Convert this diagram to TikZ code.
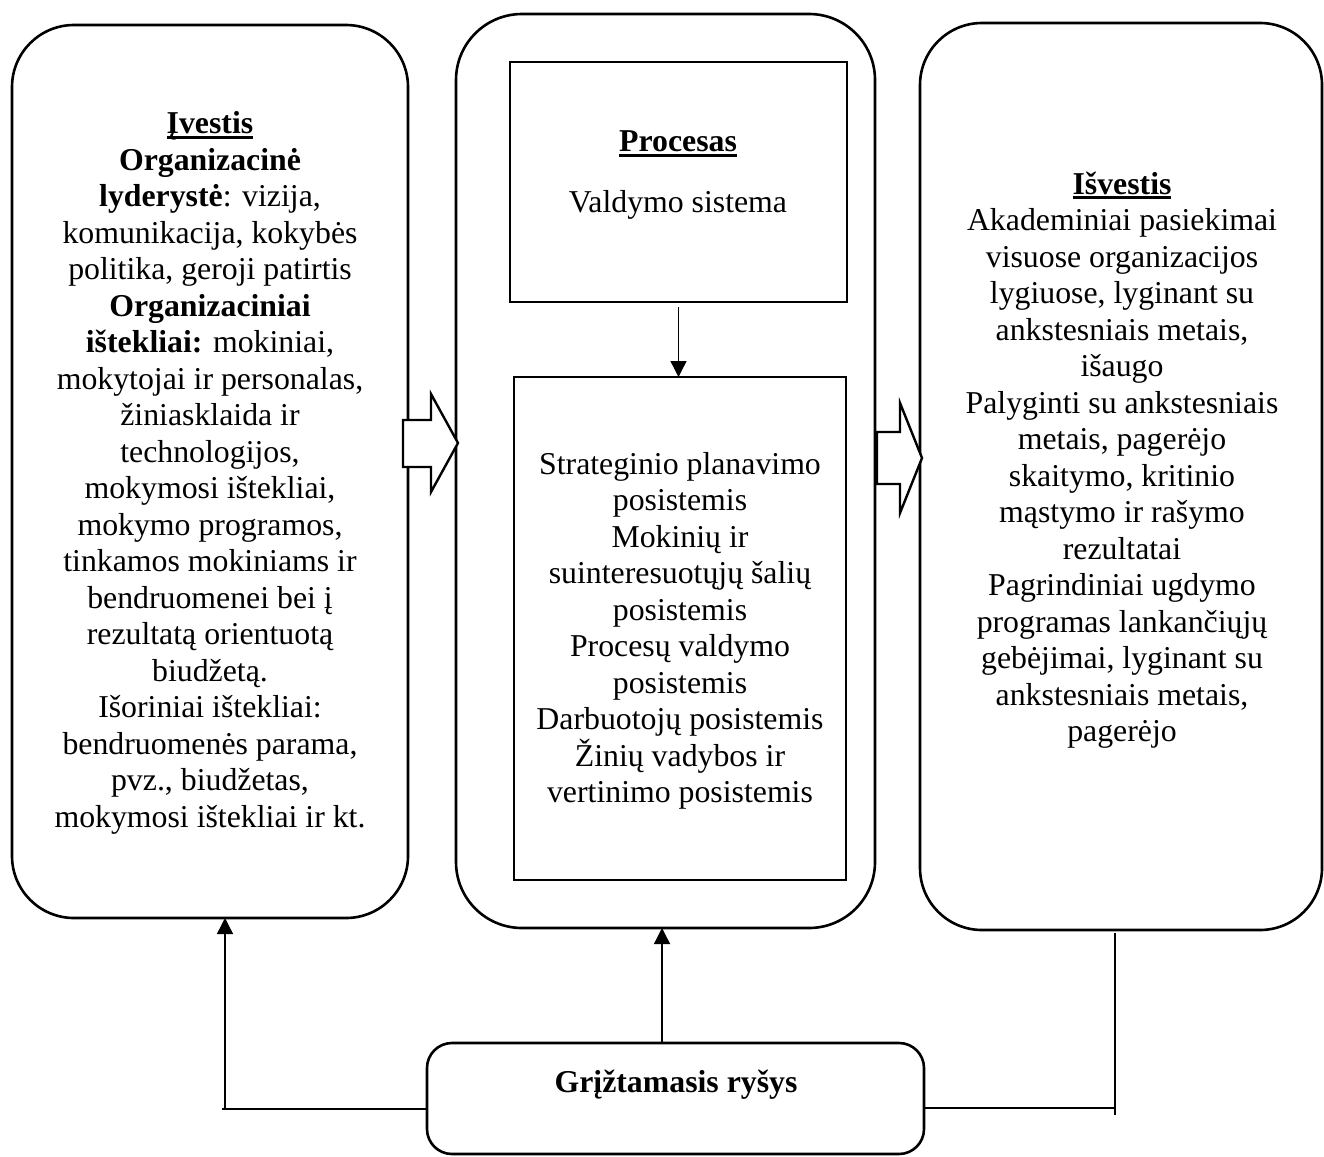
\documentclass[tikz,border=0pt]{standalone}
\usepackage{fontspec}
\setmainfont{Liberation Serif}
\usetikzlibrary{arrows.meta}
% bold heading with a heavy underline just below the baseline
\newcommand\undl[1]{\setbox0\hbox{#1}\rlap{\rule[-0.16em]{\wd0}{0.09em}}\box0}
\begin{document}
\begin{tikzpicture}[x=1pt,y=-1pt,
  panel/.style={draw, line width=2.6pt, rounded corners=62pt, inner sep=0pt, outer sep=0pt},
  innerbox/.style={draw, line width=2.4pt, inner sep=0pt, outer sep=0pt},
  txt/.style={align=center, inner sep=0pt, font=\fontsize{31.8}{36.5}\selectfont},
  conn/.style={line width=1.4pt},
  tip/.style={-{Triangle[width=16pt,length=16pt]}},
  blockarrow/.style={draw, fill=white, line width=2.4pt, line join=miter}]
\useasboundingbox (0,0) rectangle (1324,1156);

% three main panels
\node[panel, minimum width=396pt, minimum height=893pt] (in) at (210,471.5) {};
\node[panel, rounded corners=66pt, minimum width=419pt, minimum height=914pt] (proc) at (665.5,471) {};
\node[panel, minimum width=402pt, minimum height=907pt] (out) at (1121,476.5) {};

% boxes inside the process panel
\node[innerbox, minimum width=337pt, minimum height=240pt] (mgmt) at (678.5,182) {};
\node[innerbox, minimum width=332pt, minimum height=503pt] (subs) at (680,628.5) {};

% feedback box
\node[panel, rounded corners=25pt, minimum width=497pt, minimum height=111pt] (fb) at (675.5,1098.5) {};

% block arrows between panels
\draw[blockarrow] (403,420) -- (431,420) -- (431,394) -- (458,443) -- (431,492) -- (431,467) -- (403,467) -- cycle;
\draw[blockarrow] (877,432) -- (900,432) -- (900,403) -- (922,458) -- (900,513) -- (900,484) -- (877,484) -- cycle;

% texts
\node[txt] (inT) at (210,473) {\textbf{\undl{Įvestis}}\\
\textbf{Organizacinė}\\
\textbf{lyderystė}: vizija,\\
komunikacija, kokybės\\
politika, geroji patirtis\\
\textbf{Organizaciniai}\\
\textbf{ištekliai:} mokiniai,\\
mokytojai ir personalas,\\
žiniasklaida ir\\
technologijos,\\
mokymosi ištekliai,\\
mokymo programos,\\
tinkamos mokiniams ir\\
bendruomenei bei į\\
rezultatą orientuotą\\
biudžetą.\\
Išoriniai ištekliai:\\
bendruomenės parama,\\
pvz., biudžetas,\\
mokymosi ištekliai ir kt.};

\node[txt] (procT) at (678,144) {\textbf{\undl{Procesas}}};
\node[txt] (vsT) at (678,205) {Valdymo sistema};

\node[txt] (subsT) at (680,631) {Strateginio planavimo\\
posistemis\\
Mokinių ir\\
suinteresuotųjų šalių\\
posistemis\\
Procesų valdymo\\
posistemis\\
Darbuotojų posistemis\\
Žinių vadybos ir\\
vertinimo posistemis};

\node[txt] (outT) at (1122,460) {\textbf{\undl{Išvestis}}\\
Akademiniai pasiekimai\\
visuose organizacijos\\
lygiuose, lyginant su\\
ankstesniais metais,\\
išaugo\\
Palyginti su ankstesniais\\
metais, pagerėjo\\
skaitymo, kritinio\\
mąstymo ir rašymo\\
rezultatai\\
Pagrindiniai ugdymo\\
programas lankančiųjų\\
gebėjimai, lyginant su\\
ankstesniais metais,\\
pagerėjo};

\node[txt, font=\fontsize{31.8}{36.5}\selectfont\bfseries] (fbT) at (676,1085) {Grįžtamasis ryšys};

% connectors
\draw[conn,tip,shorten <=5pt] (mgmt.south) -- (mgmt.south |- subs.north);

\coordinate (midx) at (662,0);
\draw[conn,tip] (fb.north -| midx) -- (proc.south -| midx);

\coordinate (lx) at (225,1109);
\draw[conn,tip] (fb.west |- lx) -- (lx) -- (lx |- in.south);
\draw[conn] (lx) -- ++(-3,0);

\coordinate (rx) at (1115,1108);
\draw[conn,shorten >=3pt] (fb.east |- rx) -- (rx) -- (rx |- out.south);
\draw[conn] (rx) -- ++(0,7);
\end{tikzpicture}
\end{document}
